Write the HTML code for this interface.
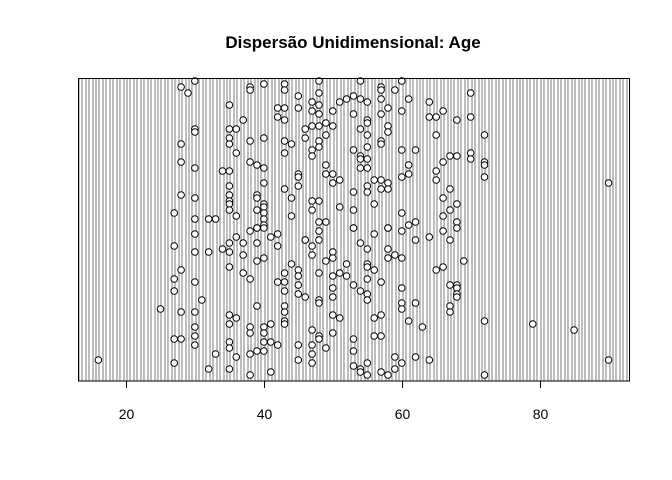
<!DOCTYPE html>
<html><head><meta charset="utf-8"><style>
html,body{margin:0;padding:0;background:#fff;}
svg{display:block;font-family:"Liberation Sans",Arial,sans-serif;}
</style></head><body>
<svg id="chart" width="672" height="480" viewBox="0 0 672 480" xmlns="http://www.w3.org/2000/svg">
<text x="353" y="48" text-anchor="middle" font-size="17" font-weight="bold">Dispersão Unidimensional: Age</text>
<rect x="78" y="78" width="551" height="303" fill="#fff"/>
<g id="grid" shape-rendering="crispEdges"></g>
<g id="points"></g>
<rect x="78.5" y="78.5" width="551" height="302.5" fill="none" stroke="#000" stroke-width="1"/>
<g id="xaxis"></g>
</svg>
<script>
const xTicks = [20, 40, 60, 80];
const xTickLabels = ["20", "40", "60", "80"];
const ages = [
30,28,29,38,38,40,43,43,45,35,42,43,45,42,43,37,30,30,35,36,46,46,35,35,38,40,43,44,28,36,43,28,38,39,40,30,34,35,45,45,35,40,45,43,28,30,35,35,35,35,39,39,40,40,44,27,30,32,33,36,39,40,40,44,39,40,
30,27,30,32,36,38,39,40,41,42,46,34,35,35,37,39,42,37,39,40,28,35,44,45,43,37,38,27,27,30,42,43,43,45,45,45,46,31,25,28,30,39,43,43,35,36,35,41,43,43,30,30,30,38,38,40,40,40,27,28,35,35,41,42,45,45,33,36,38,39,40,27,32,35,38,41,16,
48,48,54,57,57,59,60,47,48,47,48,50,51,52,53,54,55,57,57,58,61,64,70,53,60,66,68,64,65,70,47,48,49,50,55,55,58,58,54,55,49,65,72,48,48,57,57,55,53,54,54,55,60,62,47,47,67,68,66,70,70,72,72,49,49,50,55,54,61,65,65,50,51,56,57,58,60,61,72,55,55,57,58,53,67,47,48,47,51,56,66,68,67,66,53,60,48,49,53,58,61,62,68,
48,48,53,56,58,60,46,54,62,64,66,67,68,47,47,50,50,49,55,58,58,59,60,52,51,52,55,55,56,55,69,65,66,48,50,50,53,54,55,55,57,60,67,68,68,68,68,48,48,50,60,60,62,67,67,50,51,56,57,61,63,72,47,48,48,50,56,57,47,47,47,49,53,53,53,54,54,55,55,57,58,59,59,60,62,64,72,79,85,90,90
];
const jitter = [
99,97,95,97,96,98,98,96,94,91,90,90,90,87,86,86,83,82,83,83,83,80,80,78,79,80,79,78,78,75,75,72,72,71,70,70,69,69,68,67,64,65,64,63,61,60,61,59,58,56,61,60,58,57,60,55,53,53,53,54,56,55,53,54,50,51,
48,44,42,42,47,49,50,50,47,48,46,43,45,42,45,45,44,41,39,40,36,37,38,36,35,35,33,33,29,32,32,32,29,34,31,28,27,26,23,22,22,24,24,22,21,20,18,18,19,18,17,14,11,17,15,17,15,12,13,13,12,10,12,11,11,6,8,7,8,9,9,5,3,3,1,2,6,
99,95,99,97,96,96,99,92,91,89,88,89,92,93,94,93,92,93,88,90,93,92,95,88,89,89,86,87,87,87,84,84,85,84,86,85,84,82,83,81,81,81,81,79,77,79,78,77,76,74,73,73,76,76,76,74,74,74,72,75,73,72,71,71,68,68,70,70,71,69,66,65,66,66,66,65,67,68,67,64,62,63,63,62,63,59,59,56,57,58,60,58,56,54,56,55,52,52,50,50,51,52,52,
49,46,50,48,50,49,46,45,46,47,49,46,50,44,41,42,40,39,43,43,40,41,40,38,35,34,38,37,36,33,39,36,37,35,34,30,31,29,28,26,32,30,31,31,30,28,27,26,25,27,25,23,25,24,22,21,20,20,21,19,17,19,16,14,13,15,14,14,11,8,5,10,13,9,4,3,2,5,1,2,1,3,7,5,7,6,1,18,16,65,6
];

const plot = {left: 78, right: 629, top: 78, bottom: 381};
const xMin = 13.04, xMax = 92.96;
const yMin = -1, yMax = 100;
function xScale(v){ return plot.left + (v - xMin) / (xMax - xMin) * (plot.right - plot.left); }
function yScale(v){ return plot.bottom - (v - yMin) / (yMax - yMin) * (plot.bottom - plot.top); }

const NS = "http://www.w3.org/2000/svg";
const grid = document.getElementById("grid");
for (let k = 26; k <= 186; k++) {
  const gx = Math.round(xScale(k * 0.5));
  if (gx < plot.left || gx > plot.right - 1) continue;
  const g = document.createElementNS(NS, "rect");
  g.setAttribute("x", gx);
  g.setAttribute("y", plot.top);
  g.setAttribute("width", "2");
  g.setAttribute("height", plot.bottom - plot.top);
  g.setAttribute("fill", "#bebebe");
  
  
  grid.appendChild(g);
}

const pts = document.getElementById("points");
const n = Math.min(ages.length, jitter.length);
for (let i = 0; i < n; i++) {
  const c = document.createElementNS(NS, "circle");
  c.setAttribute("cx", xScale(ages[i]).toFixed(1));
  c.setAttribute("cy", yScale(jitter[i]).toFixed(1));
  c.setAttribute("r", "3.3");
  c.setAttribute("fill", "#fff");
  c.setAttribute("stroke", "#000");
  c.setAttribute("stroke-width", "1");
  
  
  pts.appendChild(c);
}

const ax = document.getElementById("xaxis");
for (let i = 0; i < xTicks.length; i++) {
  const x = Math.round(xScale(xTicks[i])) + 0.5;
  const t = document.createElementNS(NS, "line");
  t.setAttribute("x1", x); t.setAttribute("x2", x);
  t.setAttribute("y1", plot.bottom); t.setAttribute("y2", plot.bottom + 7);
  t.setAttribute("stroke", "#000");
  
  
  ax.appendChild(t);
  const l = document.createElementNS(NS, "text");
  l.setAttribute("x", x);
  l.setAttribute("y", plot.bottom + 38);
  l.setAttribute("text-anchor", "middle");
  l.setAttribute("font-size", "14");
  l.textContent = xTickLabels[i];
  
  
  ax.appendChild(l);
}
</script>
</body></html>
